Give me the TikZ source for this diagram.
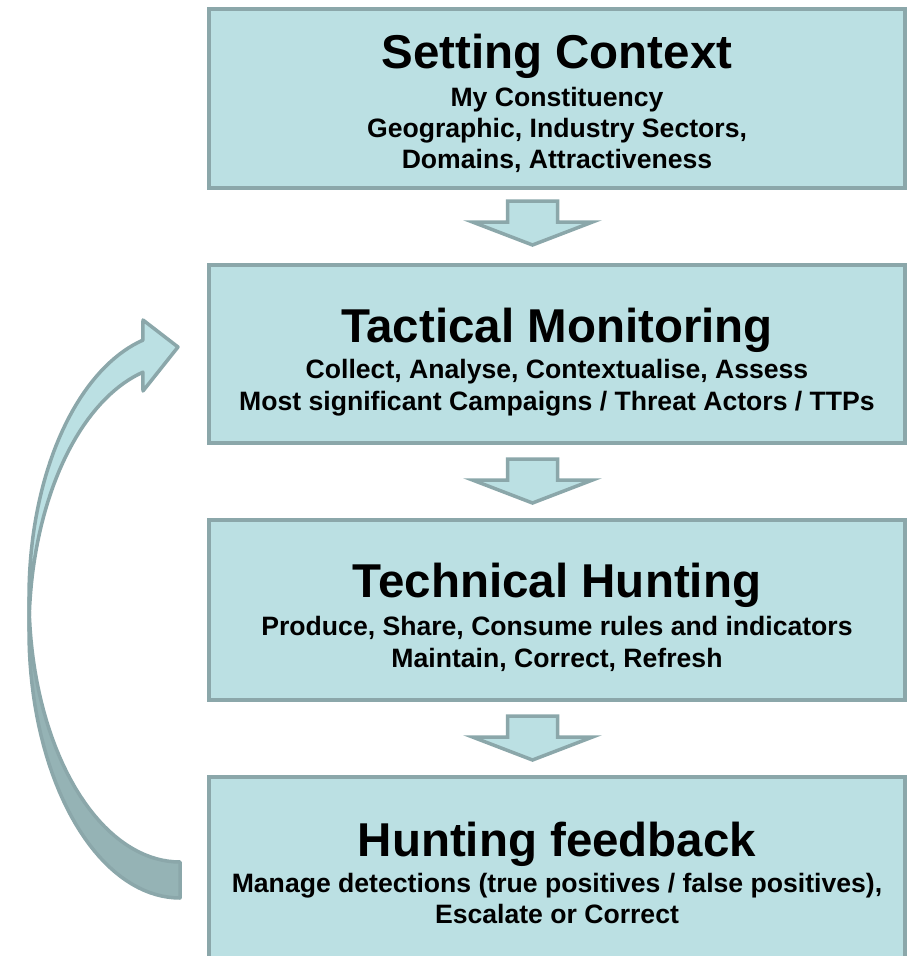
\documentclass[tikz,border=0pt]{standalone}
\usepackage{fontspec}
\setmainfont{Liberation Sans}
\definecolor{boxfill}{HTML}{BBE0E3}
\definecolor{boxline}{HTML}{8BA7AA}
\definecolor{backfill}{HTML}{95B3B5}
\tikzset{
  stage/.style={draw=boxline, fill=boxfill, line width=4pt, rectangle, inner sep=0pt, outer sep=0pt},
  stagetitle/.style={anchor=base, inner sep=0pt, font=\bfseries\fontsize{47.5}{57}\selectfont},
  stagesub/.style={anchor=base, inner sep=0pt, font=\bfseries\fontsize{26.6}{32}\selectfont},
  blockarrow/.style={draw=boxline, fill=boxfill, line width=3.5pt, line join=miter},
  backarrow/.style={draw=boxline, fill=backfill, line width=3.5pt, line join=round},
}
\begin{document}
\begin{tikzpicture}[x=1pt,y=-1pt]
\useasboundingbox (0,0) rectangle (910,956);
\clip (0,0) rectangle (910,956);

% boxes
\node[stage, minimum width=696pt, minimum height=179pt] (b1) at (557,98.5) {};
\node[stage, minimum width=696pt, minimum height=178pt] (b2) at (557,354) {};
\node[stage, minimum width=696pt, minimum height=180pt] (b3) at (557,610) {};
\node[stage, minimum width=696pt, minimum height=213pt] (b4) at (557,883.5) {};

% texts
\node[stagetitle] (t1) at (557,68) {Setting Context};
\node[stagesub] (s1a) at (557,106) {My Constituency};
\node[stagesub] (s1b) at (557,137) {Geographic, Industry Sectors,};
\node[stagesub] (s1c) at (557,168) {Domains, Attractiveness};

\node[stagetitle] (t2) at (557,342) {Tactical Monitoring};
\node[stagesub] (s2a) at (557,378) {Collect, Analyse, Contextualise, Assess};
\node[stagesub] (s2b) at (557,410) {Most significant Campaigns / Threat Actors / TTPs};

\node[stagetitle] (t3) at (557,597) {Technical Hunting};
\node[stagesub] (s3a) at (557,635) {Produce, Share, Consume rules and indicators};
\node[stagesub] (s3b) at (557,667) {Maintain, Correct, Refresh};

\node[stagetitle] (t4) at (557,856) {Hunting feedback};
\node[stagesub] (s4a) at (557,892) {Manage detections (true positives / false positives),};
\node[stagesub] (s4b) at (557,923) {Escalate or Correct};

% down block arrows
\coordinate (d1) at (532.5,245);
\coordinate (d2) at (532.5,503);
\coordinate (d3) at (532.5,760);
\foreach \d in {d1,d2,d3}{
  \draw[blockarrow] (\d) -- ++(-60,-23) -- ++(35,0) -- ++(0,-21) -- ++(50,0) -- ++(0,21) -- ++(35,0) -- cycle;
}

% curved feedback arrow: back (lower) part
\draw[backarrow]
  plot[domain=180:90, samples=40] ({180+151*cos(\x)},{597+265*sin(\x)})
  -- plot[domain=90:180, samples=40] ({180+151*cos(\x)},{631+267*sin(\x)})
  -- cycle;
% front (upper) part with head
\draw[blockarrow, line join=round]
  plot[domain=255.8:180, samples=40] ({180+151*cos(\x)},{597+265*sin(\x)})
  -- plot[domain=180:255.8, samples=40] ({180+151*cos(\x)},{631+267*sin(\x)})
  -- (143,391) -- (178,347) -- (143,320) -- cycle;
\end{tikzpicture}
\end{document}
